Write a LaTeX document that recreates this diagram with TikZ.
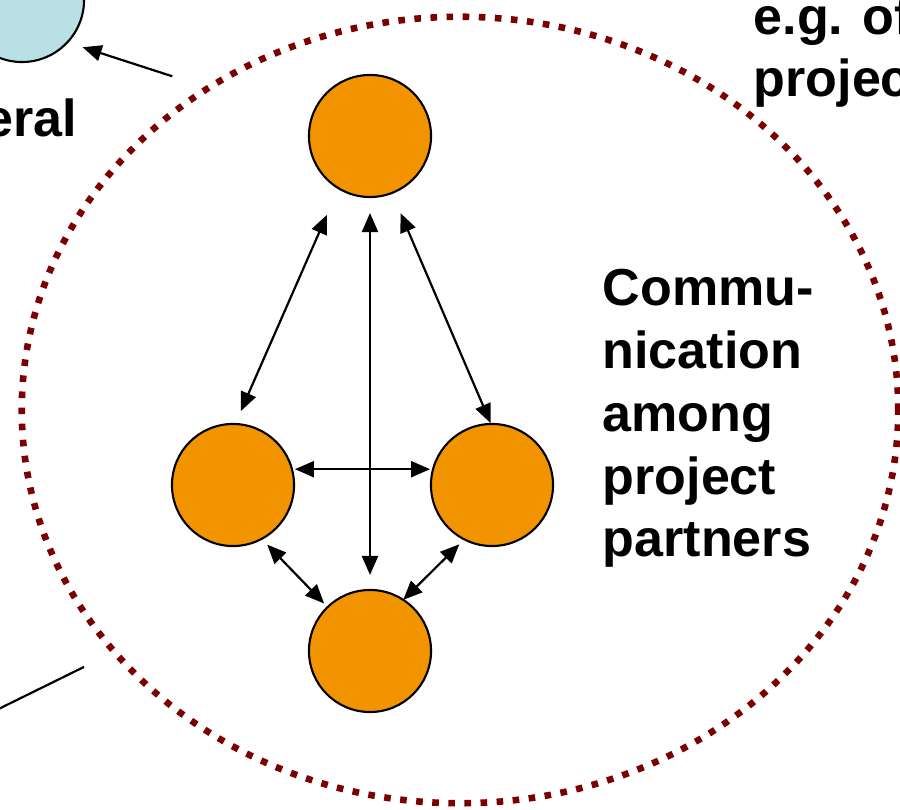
\documentclass[tikz,border=0pt]{standalone}
\usepackage{fontspec}
\setmainfont{Liberation Sans}
\usetikzlibrary{shapes.geometric,arrows.meta,positioning,calc}
\definecolor{partnerorange}{RGB}{242,148,0}
\definecolor{extblue}{RGB}{185,224,228}
\definecolor{groupred}{RGB}{125,0,0}
\tikzset{
  partnernode/.style={circle,draw=black,line width=0.6pt,fill=partnerorange,minimum size=1.22cm,inner sep=0pt,outer sep=0pt},
  extnode/.style={partnernode,fill=extblue,minimum size=1.24cm},
  groupnode/.style={ellipse,draw=groupred,line width=0.066cm,dash pattern=on 0.066cm off 0.095cm,minimum width=8.76cm,minimum height=7.86cm,inner sep=0pt,outer sep=0pt},
  lbl/.style={font=\fontsize{14.8}{17.9}\selectfont\bfseries,align=left,inner sep=0pt},
  arr/.style={{Triangle[length=0.19cm,width=0.16cm]}-{Triangle[length=0.19cm,width=0.16cm]},line width=0.022cm},
  extarr/.style={-{Triangle[length=0.19cm,width=0.16cm]},line width=0.022cm},
  plainline/.style={line width=0.022cm}
}

\begin{document}
\begin{tikzpicture}[x=0.01cm,y=-0.01cm]
  \useasboundingbox (0,0) rectangle (900,810);
  \clip (0,0) rectangle (900,810);

  %% Group of partners
  \node[groupnode] (group) at (460,410) {};

  %% Partners
  \node[partnernode] (pTop) at (370,136) {};
  \node[partnernode] (pLeft) at (233,485) {};
  \node[partnernode] (pRight) at (492,485) {};
  \node[partnernode] (pBottom) at (370,651) {};

  %% Outside party
  \node[extnode] (ext) at (22,0) {};

  %% Labels (base = last line)
  \node[lbl,anchor=base west] (commLbl) at (602,557) {Commu-\\nication\\among\\project\\partners};
  \node[lbl,anchor=base east] (extLbl) at (78,137) {eral};
  \node[lbl,anchor=base west] (egLbl) at (753,97) {e.g. of\\projec};

  %% Arrows among partners
  \draw[arr,shorten <=0.29cm,shorten >=0.14cm] (pTop.239) -- (pLeft.88);
  \draw[arr,shorten <=0.16cm,shorten >=0.15cm] (pTop.south) -- (pBottom.north);
  \draw[arr,shorten <=0.22cm,shorten >=0.01cm] (pTop.-69) -- (pRight.91);
  \draw[arr,shorten <=0.03cm,shorten >=0.03cm] (pLeft.15) -- (pRight.165);
  \draw[arr,shorten <=0.08cm,shorten >=0.05cm] (pLeft.-62) -- (pBottom.134);
  \draw[arr,shorten <=0.07cm] (pRight.243) -- (pBottom.57);

  %% Links out of the group
  \draw[extarr,shorten <=0.38cm,shorten >=0.16cm] (group.128) -- (ext.-43);
  \coordinate (offL) at (-40,728);
  \draw[plainline,shorten <=0.34cm] (group.215) -- (offL);
\end{tikzpicture}
\end{document}
